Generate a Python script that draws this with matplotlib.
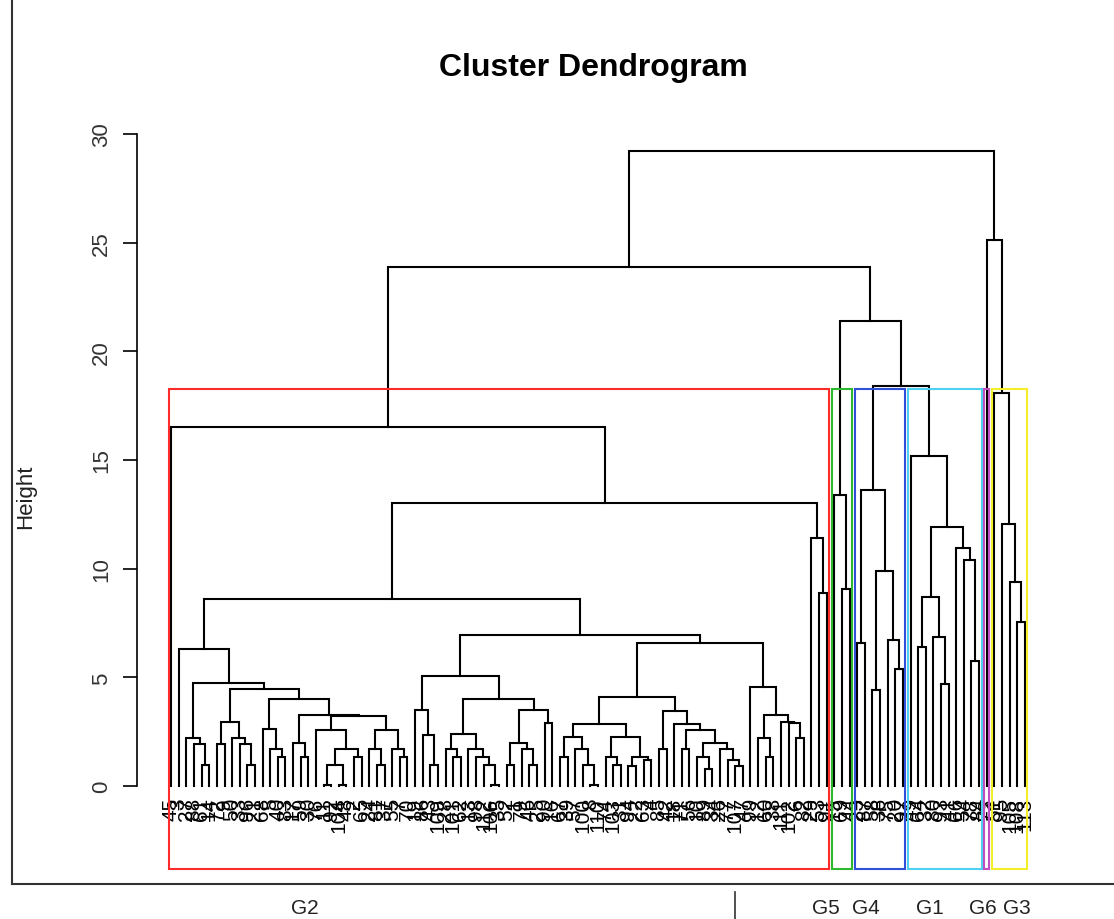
import matplotlib.pyplot as plt
from matplotlib.lines import Line2D
from matplotlib.patches import Rectangle

plt.rcParams['font.family'] = ['Liberation Sans', 'DejaVu Sans']

L = None  # a single observation (leaf)

# merge heights, as (height, left, right)
# --- G2 ---
g2_a71 = (2.2, L, (1.93, L, (0.97, L, L)))
g2_a721 = (2.95, (1.93, L, L), (2.2, L, (1.93, L, (0.97, L, L))))
g2_a7221 = (2.6, L, (1.7, L, (1.35, L, L)))
g2_a72221 = (2.0, L, (1.35, L, L))
g2_x1 = (2.58, L, (1.7, (0.97, (0.05, L, L), (0.05, L, L)), (1.35, L, L)))
g2_x2 = (2.58, (1.7, L, (0.97, L, L)), (1.7, L, (1.35, L, L)))
g2_a7 = (4.74, g2_a71, (4.46, g2_a721, (4.0, g2_a7221, (3.27, g2_a72221, (3.2, g2_x1, g2_x2)))))
g2_a5 = (6.3, L, g2_a7)

g2_a81 = (3.5, L, (2.35, L, (0.97, L, L)))
g2_a821 = (2.4, (1.7, L, (1.35, L, L)), (1.7, L, (1.35, L, (0.97, L, (0.05, L, L)))))
g2_a822 = (3.5, (2.0, (0.97, L, L), (1.7, L, (0.97, L, L))), (2.9, L, L))
g2_a8 = (5.06, g2_a81, (4.0, g2_a821, g2_a822))

g2_a9111 = (2.25, (1.35, L, L), (1.7, L, (0.97, L, (0.05, L, L))))
g2_a9112 = (2.25, (1.35, L, (0.97, L, L)), (1.35, (0.9, L, L), (1.2, L, L)))
g2_a912 = (3.45, (1.7, L, L),
           (2.85, L, (2.58, (1.7, L, L),
                      (2.0, (1.35, L, (0.8, L, L)), (1.7, L, (1.2, L, (0.9, L, L)))))))
g2_a92 = (4.55, L, (3.27, (2.2, L, (1.35, L, L)), (2.95, L, (2.9, L, (2.2, L, L)))))
g2_a9 = (6.6, (4.1, (2.85, g2_a9111, g2_a9112), g2_a912), g2_a92)

g2_a4 = (11.4, L, (8.9, L, L))
g2 = (16.5, L, (13.0, (8.6, g2_a5, (6.95, g2_a8, g2_a9)), g2_a4))

# --- other groups ---
g5 = (13.4, L, (9.05, L, L))
g4 = (13.6, (6.6, L, L), (9.9, (4.4, L, L), (6.7, L, (5.4, L, L))))
g1 = (15.2, L, (11.9, (8.7, (6.4, L, L), (6.85, L, (4.7, L, L))),
                (10.95, L, (10.4, L, (5.75, L, L)))))
g6 = L
g3 = (18.1, L, (12.05, L, (9.4, L, (7.55, L, L))))

root = (29.2, (23.9, g2, (21.4, g5, (18.4, g4, g1))), (25.1, g6, g3))

leaf_labels = [45, 3, 27, 88, 61, 14, 72, 9, 50, 33, 96, 21, 68, 5, 40, 83, 17, 59, 30, 76,
               11, 92, 104, 48, 2, 65, 24, 81, 37, 55, 7, 70, 19, 86, 43, 109, 28, 101, 62, 13,
               98, 112, 106, 35, 52, 1, 79, 46, 25, 90, 16, 67, 39, 57, 100, 8, 110, 74, 103, 31,
               94, 22, 63, 4, 85, 42, 18, 71, 56, 10, 89, 34, 26, 77, 107, 47, 99, 12, 60, 38,
               111, 102, 6, 82, 29, 53, 91, 15, 69, 44, 23, 87, 58, 36, 75, 20, 97, 49, 64, 32,
               80, 93, 41, 66, 54, 78, 84, 73, 51, 95, 105, 108, 113]

group_names = ['G2', 'G5', 'G4', 'G1', 'G6', 'G3']
group_sizes = [87, 3, 7, 10, 1, 5]
group_colors = ['#FF2A2A', '#2DB82D', '#3050D8', '#4FD0F0', '#C050C0', '#F2EE2A']
group_label_x = [305, 826, 866, 930, 983, 1017]
cut_height = 18.25

W, H = 1114, 920
fig = plt.figure(figsize=(W / 100, H / 100), dpi=100)
ax = fig.add_axes([137 / W, 1 - 870 / H, 922 / W, 760 / H])

n_leaves = len(leaf_labels)
counter = [0]


def draw(node):
    if node is None:
        x = counter[0]
        counter[0] += 1
        return x, 0.0
    h, left, right = node
    xl, hl = draw(left)
    xr, hr = draw(right)
    ax.plot([xl, xl, xr, xr], [hl, h, h, hr], color='black', lw=1.5,
            solid_joinstyle='miter', zorder=3)
    return (xl + xr) / 2, h


draw(root)

for i, lab in enumerate(leaf_labels):
    ax.annotate(str(lab), (i, 0), xytext=(0, -8), textcoords='offset points',
                rotation=90, ha='center', va='top', fontsize=15, color='black')

ext = 0.04 * (n_leaves - 1)
ybot = -3.82
ax.set_xlim(-ext, n_leaves - 1 + ext)
ax.set_ylim(ybot, 31.15)

# rectangles around the 6 groups
start = 0
for size, col in zip(group_sizes, group_colors):
    x0 = start - 0.34
    x1 = start + size - 1 + 0.33
    ax.add_patch(Rectangle((x0, ybot), x1 - x0, cut_height - ybot, fill=False,
                           edgecolor=col, lw=1.5, zorder=4, clip_on=False))
    start += size

for s in ['top', 'right', 'bottom']:
    ax.spines[s].set_visible(False)
ax.spines['left'].set_bounds(0, 30)
ax.spines['left'].set_linewidth(1.2)
ax.set_xticks([])
ax.set_yticks([0, 5, 10, 15, 20, 25, 30])
ax.tick_params(axis='y', length=10, width=1.2, pad=8, labelsize=16, labelcolor='#333333')
for t in ax.get_yticklabels():
    t.set_rotation(90)
    t.set_va('center')

fig.text(593 / W, 1 - 68 / H, 'Cluster Dendrogram', ha='center', va='center',
         fontsize=23, fontweight='bold')
fig.text(26 / W, 1 - 497 / H, 'Height', ha='center', va='center', rotation=90,
         fontsize=16, color='#222222')

# outer frame of the screenshot
fig.add_artist(Line2D([12 / W, 12 / W], [1 - 885 / H, 1], transform=fig.transFigure,
                      color='#333333', lw=1.5))
fig.add_artist(Line2D([12 / W, 1], [1 - 885 / H, 1 - 885 / H], transform=fig.transFigure,
                      color='#333333', lw=1.5))
fig.add_artist(Line2D([735 / W, 735 / W], [0, 1 - 893 / H], transform=fig.transFigure,
                      color='#333333', lw=1.2))
for name, gx in zip(group_names, group_label_x):
    fig.text(gx / W, 1 - 909 / H, name, ha='center', va='center', fontsize=15,
             color='#222222')

plt.savefig('out.png', dpi=100)
